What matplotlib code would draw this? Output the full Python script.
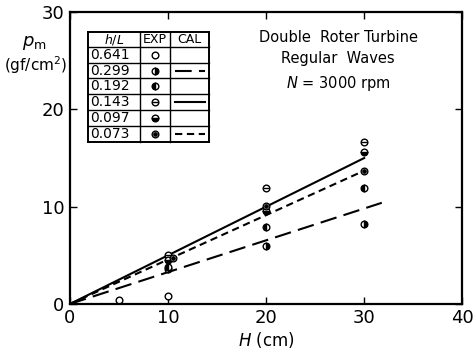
import numpy as np
import matplotlib
matplotlib.use("Agg")
import matplotlib.pyplot as plt

# measured mean pressure vs wave height, one list per h/L
hL_labels = ["0.641", "0.299", "0.192", "0.143", "0.097", "0.073"]
H_641 = [5, 10];          p_641 = [0.4, 0.85]
H_299 = [10, 20, 30];     p_299 = [3.6, 6.0, 8.2]
H_192 = [10, 20, 30];     p_192 = [3.8, 7.9, 11.9]
H_143 = [10, 20, 30];     p_143 = [5.0, 11.9, 16.6]
H_097 = [10, 20, 30];     p_097 = [4.5, 9.6, 15.6]
H_073 = [10.5, 20, 30];   p_073 = [4.7, 10.05, 13.7]

# calculated lines (end points)
cal_299_H = [0, 31.8]; cal_299_p = [0, 10.4]
cal_143_H = [0, 30];   cal_143_p = [0, 15.0]
cal_073_H = [0, 30];   cal_073_p = [0, 13.7]

plt.rcParams['font.family'] = ['DejaVu Sans']
fig = plt.figure(figsize=(4.76, 3.58), dpi=100)
ax = fig.add_axes([0.147, 0.151, 0.824, 0.815])

lw = 1.5
ax.plot(cal_143_H, cal_143_p, color="k", lw=lw)
ax.plot(cal_073_H, cal_073_p, color="k", lw=lw, dashes=(3.5, 2.2))
ax.plot(cal_299_H, cal_299_p, color="k", lw=lw, dashes=(8, 3.5))

ms = 4.8
mk = dict(color="k", ls="none", markersize=ms, markeredgewidth=1.0,
          markerfacecolor="k", markerfacecoloralt="white")
ax.plot(H_641, p_641, marker="o", **{**mk, "markerfacecolor": "white"})
ax.plot(H_299, p_299, marker="o", fillstyle="right", **mk)
ax.plot(H_192, p_192, marker="o", fillstyle="left", **mk)
ax.plot(H_143, p_143, marker="o", **{**mk, "markerfacecolor": "white"})
ax.plot(H_143, p_143, marker="_", color="k", ls="none", markersize=ms, markeredgewidth=1.0)
ax.plot(H_097, p_097, marker="o", fillstyle="bottom", **mk)
ax.plot(H_073, p_073, marker="o", **{**mk, "markerfacecolor": "white"})
ax.plot(H_073, p_073, marker="o", color="k", ls="none", markersize=2.4)

ax.set_xlim(0, 40)
ax.set_ylim(0, 30)
ax.set_xticks([0, 10, 20, 30, 40])
ax.set_yticks([0, 10, 20, 30])
ax.tick_params(direction="in", length=5, width=1.0, labelsize=13,
               top=True, right=True, pad=4)
for s in ax.spines.values():
    s.set_linewidth(1.6)

ax.set_xlabel("$\\mathit{H}$ (cm)", fontsize=12, labelpad=2)
fig.text(0.072, 0.88, "$p_\\mathrm{m}$", fontsize=13, ha="center", va="center")
fig.text(0.074, 0.818, "(gf/cm$^2$)", fontsize=11, ha="center", va="center")

tx0 = 0.684
ax.text(tx0, 0.914, "Double  Roter Turbine", transform=ax.transAxes,
        ha="center", va="center", fontsize=10.5)
ax.text(tx0, 0.842, "Regular  Waves", transform=ax.transAxes,
        ha="center", va="center", fontsize=10.5)
ax.text(tx0, 0.757, "$\\mathit{N}$ = 3000 rpm", transform=ax.transAxes,
        ha="center", va="center", fontsize=10.5)

# legend table
tx = [0.046, 0.179, 0.255, 0.355]
ty = [0.932, 0.880, 0.825, 0.774, 0.719, 0.664, 0.610, 0.555]
tr = ax.transAxes
for i, y in enumerate(ty):
    ax.plot([tx[0], tx[-1]], [y, y], color="k", lw=1.4 if i in (0, len(ty) - 1) else 1.0,
            transform=tr, clip_on=False)
for i, x in enumerate(tx):
    ax.plot([x, x], [ty[0], ty[-1]], color="k", lw=1.4 if i in (0, len(tx) - 1) else 1.0,
            transform=tr, clip_on=False)
hy = (ty[0] + ty[1]) / 2
ax.text((tx[0] + tx[1]) / 2, hy, "$\\mathit{h/L}$", transform=tr, ha="center", va="center", fontsize=9)
ax.text((tx[1] + tx[2]) / 2, hy, "EXP", transform=tr, ha="center", va="center", fontsize=9)
ax.text((tx[2] + tx[3]) / 2, hy, "CAL", transform=tr, ha="center", va="center", fontsize=9)

fills = ["none", "right", "left", "theta", "bottom", "dot"]
cal_styles = [None, (8, 3.5), None, "solid", None, (3.5, 2.2)]
for k, lab in enumerate(hL_labels):
    yc = (ty[k + 1] + ty[k + 2]) / 2
    ax.text(tx[0] + 0.006, yc, lab, transform=tr, ha="left", va="center", fontsize=10)
    xc = (tx[1] + tx[2]) / 2
    f = fills[k]
    if f in ("right", "left", "bottom"):
        ax.plot([xc], [yc], marker="o", fillstyle=f, transform=tr, **mk)
    else:
        ax.plot([xc], [yc], marker="o", transform=tr, **{**mk, "markerfacecolor": "white"})
        if f == "theta":
            ax.plot([xc], [yc], marker="_", color="k", markersize=ms, markeredgewidth=1.0, transform=tr)
        if f == "dot":
            ax.plot([xc], [yc], marker="o", color="k", markersize=2.4, transform=tr)
    st = cal_styles[k]
    if st is not None:
        xs = [tx[2] + 0.012, tx[3] - 0.012]
        if st == "solid":
            ax.plot(xs, [yc, yc], color="k", lw=lw, transform=tr)
        else:
            ax.plot(xs, [yc, yc], color="k", lw=lw, dashes=st, transform=tr)

fig.savefig("out.png", dpi=100)
